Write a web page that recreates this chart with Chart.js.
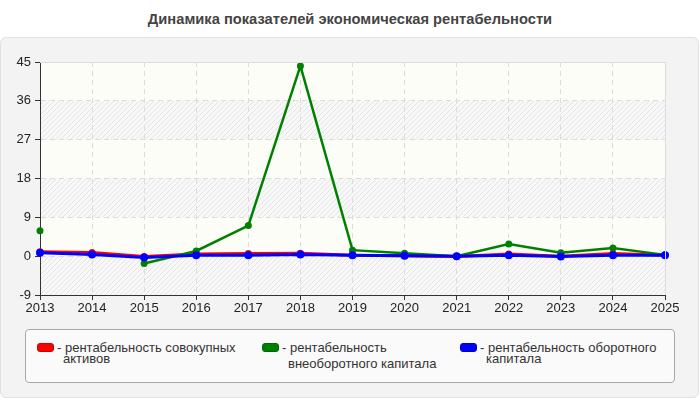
<!DOCTYPE html>
<html><head><meta charset="utf-8">
<script src="https://cdn.jsdelivr.net/npm/chart.js@4.4.1/dist/chart.umd.min.js"></script>
<style>
html,body{margin:0;padding:0;background:#fff;width:700px;height:400px;overflow:hidden;font-family:"Liberation Sans",Arial,sans-serif;}
#title{position:absolute;left:0;top:11px;width:700px;text-align:center;font-weight:bold;font-size:14.7px;color:#444;}
#panel{position:absolute;left:0;top:37px;width:697px;height:359px;background:#f3f3f3;border:1px solid #e0e0e0;border-radius:6px;}
#wrap{position:absolute;left:0;top:0;width:700px;height:400px;}
#legend{position:absolute;left:25px;top:329px;width:648px;height:52px;border:1px solid #a8a8a8;border-radius:4px;background:#fafafa;}
.item{position:absolute;font-size:13px;color:#333;line-height:13px;}
.sw{position:absolute;width:15px;height:7px;border-radius:3px;}
</style></head>
<body>
<div id="title">Динамика показателей экономическая рентабельности</div>
<div id="panel"></div>
<div id="wrap"><canvas id="c" width="700" height="400"></canvas></div>
<div id="legend"></div>
<script>
const years = ["2013","2014","2015","2016","2017","2018","2019","2020","2021","2022","2023","2024","2025"];
const totalAssets = [1.0, 0.85, -0.1, 0.5, 0.6, 0.7, 0.2, 0.1, -0.1, 0.5, 0.0, 0.6, 0.2];
const fixedCapital = [5.9, null, -1.7, 1.2, 7.1, 44.1, 1.4, 0.7, 0.0, 2.8, 0.8, 1.9, 0.3];
const workingCapital = [0.8, 0.4, -0.3, 0.2, 0.2, 0.4, 0.2, 0.1, 0.0, 0.2, -0.1, 0.2, 0.2];
const seriesNames = [["- рентабельность совокупных","активов"],["- рентабельность","внеоборотного капитала"],["- рентабельность оборотного","капитала"]];
const seriesColors = ["#ff0000","#008000","#0000ff"];
const yTicks = [-9,0,9,18,27,36,45];

// legend (HTML text)
const legendPos = [{x:11,sw:11,l2:22},{x:236,sw:236,l2:27},{x:434,sw:434,l2:22}];
const lg = document.getElementById('legend');
seriesNames.forEach((n,i)=>{
  const sw=document.createElement('div');sw.className='sw';
  sw.style.left=legendPos[i].sw+'px';sw.style.top='13px';sw.style.background=seriesColors[i];
  sw.style.border='1px solid '+(i===0?'#c00':i===1?'#060':'#00c');
  lg.appendChild(sw);
  const t1=document.createElement('div');t1.className='item';t1.textContent=n[0];
  t1.style.left=(legendPos[i].x+20)+'px';t1.style.top='11px';lg.appendChild(t1);
  const t2=document.createElement('div');t2.className='item';t2.textContent=n[1];
  t2.style.left=(legendPos[i].x+26)+'px';t2.style.top=legendPos[i].l2+'px';lg.appendChild(t2);
});

// hatch pattern
const pc=document.createElement('canvas');pc.width=5;pc.height=5;
const px=pc.getContext('2d');
px.fillStyle='#f8f8f8';px.fillRect(0,0,5,5);
px.strokeStyle='#e4e4e4';px.lineWidth=1;
px.beginPath();px.moveTo(0,5);px.lineTo(5,0);px.moveTo(-2.5,2.5);px.lineTo(2.5,-2.5);px.moveTo(2.5,7.5);px.lineTo(7.5,2.5);px.stroke();

const bgPlugin={id:'bg',beforeDraw(chart){
  const {ctx,chartArea:a,scales:{y}}=chart;
  ctx.save();
  ctx.fillStyle=ctx.createPattern(pc,'repeat');
  ctx.fillRect(a.left,a.top,a.right-a.left,a.bottom-a.top);
  ctx.fillStyle='#fdfdf7';
  for(const [hi,lo] of [[45,36],[27,18],[9,0]]){
    const t=y.getPixelForValue(hi),b=y.getPixelForValue(lo);
    ctx.fillRect(a.left,t,a.right-a.left,b-t);
  }
  ctx.restore();
},afterDraw(chart){
  const {ctx,chartArea:a}=chart;
  ctx.save();ctx.strokeStyle='#dcdcdc';ctx.lineWidth=1;
  ctx.beginPath();ctx.moveTo(a.left,a.top+0.5);ctx.lineTo(a.right+0.5,a.top+0.5);ctx.lineTo(a.right+0.5,a.bottom);ctx.stroke();
  ctx.restore();
}};

new Chart(document.getElementById('c'),{
  type:'line',
  data:{labels:years,datasets:[
    {label:seriesNames[0].join(' '),data:totalAssets,borderColor:seriesColors[0],backgroundColor:seriesColors[0],borderWidth:3,pointRadius:3.5,pointBorderWidth:0,order:2,spanGaps:false},
    {label:seriesNames[1].join(' '),data:fixedCapital,borderColor:seriesColors[1],backgroundColor:seriesColors[1],borderWidth:2.5,pointRadius:3.5,pointBorderWidth:0,order:1,spanGaps:false},
    {label:seriesNames[2].join(' '),data:workingCapital,borderColor:seriesColors[2],backgroundColor:seriesColors[2],borderWidth:3,pointRadius:4,pointBorderWidth:0,order:0,spanGaps:false}
  ]},
  options:{
    responsive:false,animation:false,devicePixelRatio:1,
    layout:{padding:{top:62,right:35,left:0,bottom:0}},
    plugins:{legend:{display:false},title:{display:false},tooltip:{enabled:false}},
    elements:{line:{tension:0}},
    scales:{
      x:{offset:false,
        grid:{color:'#dcdcdc',tickColor:'#333',tickLength:5,tickBorderDash:[]},
        border:{display:true,color:'#333',width:1,dash:[5,4]},
        ticks:{color:'#222',font:{size:13,family:'"Liberation Sans", Arial'},padding:1,maxRotation:0,autoSkip:false},
        afterFit(s){s.height=105;}
      },
      y:{min:-9,max:45,
        afterBuildTicks(s){s.ticks=yTicks.map(v=>({value:v}));},
        grid:{color:'#dcdcdc',tickColor:'#333',tickLength:5,tickBorderDash:[]},
        border:{display:true,color:'#333',width:1,dash:[5,4]},
        ticks:{color:'#222',font:{size:13,family:'"Liberation Sans", Arial'},padding:4},
        afterFit(s){s.width=40;}
      }
    }
  },
  plugins:[bgPlugin]
});
</script>
</body></html>
